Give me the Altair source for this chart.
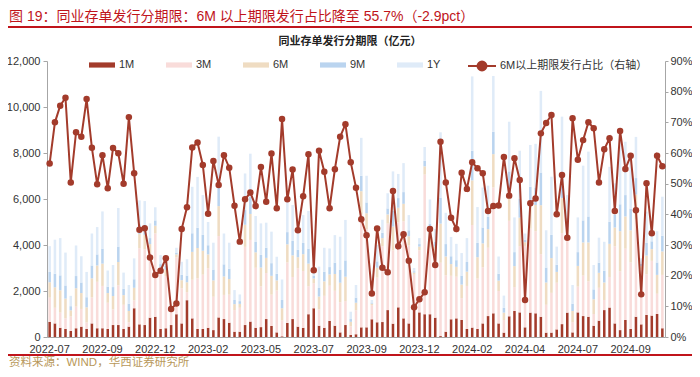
import altair as alt
import pandas as pd

# ---------------- data ----------------
tick_labels = ["2022-07", "2022-09", "2022-12", "2023-02", "2023-05", "2023-07",
               "2023-09", "2023-12", "2024-02", "2024-04", "2024-07", "2024-09"]

series_names = ["1M", "3M", "6M", "9M", "1Y"]
series_colors = ["#A33B2B", "#F9DCDA", "#EFDCC2", "#BAD4EF", "#DFEBF8"]
line_name = "6M以上期限发行占比（右轴）"
line_color = "#A33B2B"

m1 = [660, 590, 400, 350, 260, 380, 450, 350, 590, 380,
      380, 350, 520, 520, 350, 450, 1250, 550, 520, 840,
      880, 350, 380, 520, 990, 590, 1600, 810, 350, 350,
      400, 300, 850, 780, 620, 230, 230, 520, 670, 400,
      430, 780, 480, 200, 30, 610, 780, 450, 400, 990,
      1250, 490, 400, 700, 490, 200, 520, 90, 120, 420,
      420, 770, 640, 650, 1170, 580, 1290, 810, 590, 1280,
      1070, 990, 990, 840, 40, 230, 770, 810, 740, 350,
      410, 350, 590, 910, 1030, 590, 190, 900, 1130, 1070,
      420, 1060, 1030, 880, 190, 190, 330, 560, 1060, 200,
      1070, 910, 880, 490, 710, 1170, 1280, 590, 300, 740,
      350, 880, 550, 960, 930, 1000, 380]

m3 = [1050, 680, 660, 460, 630, 940, 770, 280, 1130, 2020,
      1840, 1140, 680, 1730, 1050, 190, 340, 3310, 3290, 2820,
      3620, 2440, 2270, 650, 2470, 1530, 350, 1680, 2200, 2360,
      2590, 1450, 3540, 1050, 1220, 940, 1040, 3400, 3550, 2610,
      1770, 2000, 1360, 1820, 690, 2630, 1830, 2540, 2470, 1220,
      1090, 710, 1390, 1530, 1520, 1310, 1040, 380, 1040, 4920,
      4260, 610, 1940, 3300, 3760, 3190, 3700, 4220, 3390, 1430,
      2700, 6070, 2890, 2760, 3190, 2450, 1890, 1810, 950, 1870,
      4460, 2190, 2440, 2970, 5470, 1410, 550, 4150, 1040, 2880,
      3540, 3650, 3570, 2720, 1210, 1730, 2030, 3960, 3110, 450,
      1120, 1760, 1540, 510, 1430, 440, 1330, 3350, 2550, 3100,
      2890, 4230, 2400, 1760, 2380, 880, 2320]

m6 = [670, 890, 970, 860, 270, 800, 690, 660, 830, 710,
      970, 420, 580, 1010, 420, 490, 550, 620, 630, 380,
      340, 230, 270, 40, 130, 350, 430, 1210, 1320, 1040,
      600, 710, 1300, 800, 680, 260, 170, 960, 1130, 670,
      820, 660, 820, 440, 530, 790, 940, 480, 730, 980,
      200, 560, 630, 490, 730, 850, 1060, 190, 330, 1000,
      700, 70, 430, 350, 400, 1030, 630, 760, 400, 90,
      160, 360, 630, 330, 1700, 820, 510, 430, 590, 620,
      1940, 930, 1040, 810, 1450, 450, 320, 1290, 910, 1240,
      160, 1090, 1140, 2130, 970, 1510, 470, 1520, 600, 480,
      900, 1440, 1690, 640, 650, 760, 1440, 820, 1750, 1400,
      1400, 1080, 140, 820, 510, 820, 1020]

m9 = [450, 590, 650, 570, 180, 530, 460, 440, 560, 480,
      650, 280, 390, 670, 280, 320, 370, 420, 420, 260,
      230, 150, 180, 20, 80, 230, 290, 810, 880, 690,
      400, 470, 860, 530, 450, 180, 120, 640, 750, 450,
      550, 440, 550, 290, 360, 530, 630, 320, 490, 650,
      130, 370, 420, 320, 490, 570, 710, 120, 220, 670,
      470, 50, 280, 230, 260, 690, 420, 510, 260, 60,
      110, 240, 420, 220, 1130, 540, 340, 290, 390, 420,
      1290, 620, 690, 540, 970, 300, 210, 860, 610, 830,
      110, 730, 760, 1420, 650, 1010, 310, 1010, 400, 320,
      600, 960, 1130, 430, 440, 510, 960, 550, 1170, 930,
      940, 720, 100, 550, 340, 540, 680]

y1 = [1120, 1480, 1620, 1430, 450, 1330, 1140, 1100, 1390, 1190,
      1620, 700, 960, 1680, 700, 810, 910, 1040, 1050, 640,
      570, 390, 460, 60, 210, 570, 710, 2020, 2210, 1730,
      1010, 1170, 2160, 1340, 1130, 430, 290, 1590, 1870, 1130,
      1370, 1090, 1370, 740, 890, 1320, 1560, 790, 1210, 1640,
      320, 930, 1040, 810, 1200, 1430, 1760, 320, 550, 1650,
      1160, 110, 710, 570, 660, 1710, 1050, 1260, 660, 140,
      260, 600, 1050, 550, 2840, 1360, 840, 710, 980, 1040,
      3230, 1560, 1740, 1350, 2430, 750, 530, 2160, 1510, 2080,
      270, 1820, 1900, 3550, 1620, 2530, 790, 2530, 1000, 810,
      1510, 2380, 2820, 1060, 1090, 1260, 2390, 1370, 2930, 2320,
      2330, 1790, 230, 1360, 840, 1360, 1700]

ratio = [56.6, 70.0, 75.4, 78.0, 50.4, 66.8, 65.3, 77.6, 61.7, 49.8,
         59.3, 48.5, 61.6, 59.9, 50.0, 71.7, 53.4, 35.0, 35.5, 25.9,
         20.2, 21.6, 25.7, 9.1, 10.9, 35.2, 42.3, 61.8, 63.4, 56.1,
         40.2, 57.4, 49.6, 59.3, 55.2, 42.8, 31.1, 44.9, 47.1, 42.7,
         55.4, 44.1, 59.8, 42.0, 71.1, 44.9, 54.6, 34.8, 45.9, 59.6,
         21.8, 60.7, 53.9, 42.0, 54.7, 65.3, 69.4, 57.0, 48.7, 38.4,
         33.2, 14.2, 35.4, 22.6, 21.1, 47.6, 29.6, 33.5, 24.9, 9.7,
         12.3, 14.6, 35.2, 23.5, 63.7, 50.4, 38.9, 35.2, 53.6, 48.3,
         57.0, 55.0, 53.4, 41.1, 42.7, 42.9, 58.7, 46.1, 58.3, 51.2,
         12.1, 43.6, 45.2, 66.4, 69.8, 72.4, 40.0, 52.8, 32.4, 71.3,
         57.8, 64.2, 70.0, 68.1, 50.4, 61.2, 64.8, 41.1, 67.2, 54.8,
         59.1, 41.3, 13.9, 50.1, 33.8, 59.1, 55.7]

title_text = "图 19：同业存单发行分期限：6M 以上期限发行占比降至 55.7%（-2.9pct）"
subtitle_text = "同业存单发行分期限（亿元）"
source_text = "资料来源：WIND，华西证券研究所"

# ---------------- tables ----------------
n = len(ratio)
rows = []
for k, (name, vals) in enumerate(zip(series_names, [m1, m3, m6, m9, y1])):
    for i, v in enumerate(vals):
        rows.append({"idx": i, "series": name, "value": v, "order": k})
bar_df = pd.DataFrame(rows)
line_df = pd.DataFrame({"idx": list(range(n)), "ratio": ratio, "name": line_name})

LAT = "Liberation Sans"
CJK = "Liberation Sans, Noto Sans CJK SC"
AX = "#A6A6A6"
TXT = "#333333"

label_expr = "[" + ",".join("'%s'" % t for t in tick_labels) + "][floor(datum.value / 10)]"

x_enc = alt.X(
    "idx:O",
    scale=alt.Scale(paddingInner=0.52, paddingOuter=0.26),
    axis=alt.Axis(values=list(range(0, n, 10)), labelExpr=label_expr, title=None,
                  labelAngle=0, ticks=False, domainColor=AX, labelFont=LAT,
                  labelFontSize=11, labelColor=TXT, labelPadding=6, grid=False),
)

bars = alt.Chart(bar_df).mark_bar().encode(
    x=x_enc,
    y=alt.Y("value:Q", stack="zero", scale=alt.Scale(domain=[0, 12000]),
            axis=alt.Axis(values=list(range(0, 12001, 2000)), format=",.0f", title=None,
                          grid=False, tickSize=4, tickColor=AX, domainColor=AX,
                          labelFont=LAT, labelFontSize=11, labelColor=TXT, labelPadding=3)),
    color=alt.Color("series:N", scale=alt.Scale(domain=series_names, range=series_colors),
                    legend=alt.Legend(title=None, orient="none", legendX=42, legendY=-9,
                                      direction="horizontal", columns=5, columnPadding=31,
                                      symbolType="M-1,-0.2L1,-0.2L1,0.2L-1,0.2Z",
                                      symbolSize=676, symbolStrokeWidth=0, labelOffset=4,
                                      labelFont=LAT, labelFontSize=11, labelColor=TXT,
                                      padding=0)),
    order=alt.Order("order:Q", sort="ascending"),
)

line = alt.Chart(line_df).mark_line(
    strokeWidth=2,
    point=alt.OverlayMarkDef(filled=True, size=42, color=line_color),
).encode(
    x=x_enc,
    y=alt.Y("ratio:Q", scale=alt.Scale(domain=[0, 90]),
            axis=alt.Axis(orient="right", values=list(range(0, 91, 10)),
                          labelExpr="datum.value + '%'", title=None, grid=False,
                          tickSize=3, tickColor=AX, domainColor=AX, labelFont=LAT,
                          labelFontSize=11, labelColor=TXT, labelPadding=2)),
    color=alt.Color("name:N", scale=alt.Scale(domain=[line_name], range=[line_color]),
                    legend=alt.Legend(title=None, orient="none", legendX=420, legendY=-10,
                                      symbolType="M-1,0L1,0M0.32,0A0.32,0.32,0,1,1,-0.32,0A0.32,0.32,0,1,1,0.32,0",
                                      symbolSize=784, symbolStrokeWidth=2,
                                      symbolFillColor=line_color, symbolStrokeColor=line_color,
                                      labelOffset=3, labelFont=CJK, labelFontSize=11,
                                      labelColor=TXT, padding=0)),
)

one = pd.DataFrame({"t": [0]})

title_mark = alt.Chart(pd.DataFrame({"t": [title_text]})).mark_text(
    align="left", baseline="middle", font=CJK, fontSize=14, color="#C0141B"
).encode(text="t:N", x=alt.value(-38), y=alt.value(-44))

sub_mark = alt.Chart(pd.DataFrame({"t": [subtitle_text]})).mark_text(
    align="center", baseline="middle", font="Noto Sans CJK SC", fontSize=11,
    fontWeight="bold", color="#222222"
).encode(text="t:N", x=alt.value(303), y=alt.value(-19))

src_mark = alt.Chart(pd.DataFrame({"t": [source_text]})).mark_text(
    align="left", baseline="middle", font=CJK, fontSize=11.5, color="#B8985A"
).encode(text="t:N", x=alt.value(-38), y=alt.value(302))

rule_top = alt.Chart(one).mark_rule(color="#C0141B", strokeWidth=2).encode(
    x=alt.value(-39), x2=alt.value(645), y=alt.value(-34))
rule_bot = alt.Chart(one).mark_rule(color="#C0141B", strokeWidth=2).encode(
    x=alt.value(-39), x2=alt.value(645), y=alt.value(294))

chart = alt.layer(
    bars, line, title_mark, sub_mark, src_mark, rule_top, rule_bot
).resolve_scale(
    y="independent", color="independent"
).properties(
    width=618, height=276,
    padding={"left": 39, "top": 53, "right": 27, "bottom": 32},
    autosize=alt.AutoSizeParams(type="none"),
).configure_view(stroke=None)

chart.save("out.html", embed_options={"renderer": "svg", "actions": False})
